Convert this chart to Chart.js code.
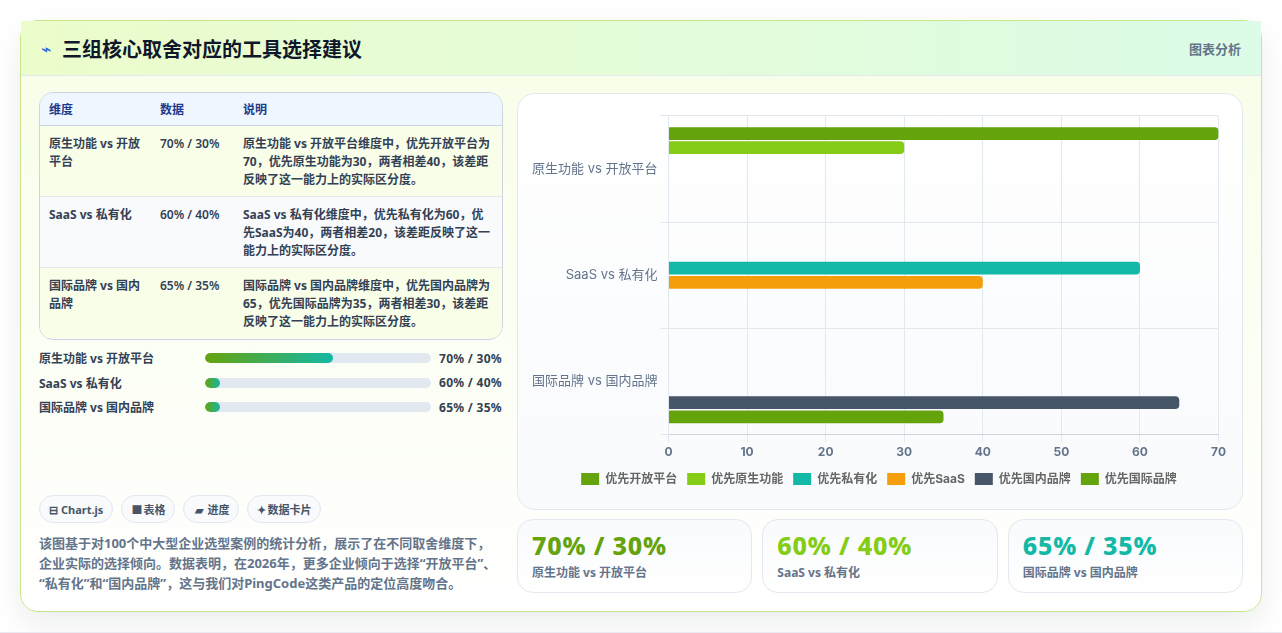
<!DOCTYPE html>
<html lang="zh-CN">
<head>
<meta charset="utf-8">
<title>三组核心取舍对应的工具选择建议</title>
<script src="https://cdn.jsdelivr.net/npm/chart.js@4"></script>
<style>
  * { box-sizing: border-box; }
  html, body { margin: 0; height: 633px; overflow: hidden; background: #fff; }
  body { position: relative; font-family: "Noto Sans", "Noto Sans CJK SC", sans-serif; color: #334155; }
  .page-line { position: absolute; left: 0; right: 0; top: 632px; height: 1px; background: #e8ecf2; }
  .card {
    position: absolute; left: 20px; top: 20px; width: 1242px; height: 592px;
    border: 1px solid #c5e98a; border-radius: 18px;
    background: linear-gradient(180deg, #f7fee7 0%, #ffffff 100%);
    box-shadow: 0 12px 30px rgba(15, 23, 42, 0.08);
  }
  .head {
    position: absolute; left: 0; top: 0; width: 1240px; height: 55px;
    background: linear-gradient(90deg, #ecfccb, #dcfce7);
    border-bottom: 1px solid #e2e8f0;
  }
  .head .icon { position: absolute; left: 20px; top: 18px; font: 700 17px "DejaVu Sans"; color: #2563eb; }
  .head h1 { position: absolute; left: 41px; top: 14px; margin: 0; font-size: 20px; line-height: 30px; font-weight: 700; color: #0f172a; }
  .head .tag { position: absolute; right: 20px; top: 18px; font-size: 13px; line-height: 20px; font-weight: 700; color: #64748b; }

  .table-wrap {
    position: absolute; left: 18px; top: 71px; width: 464px; height: 248px;
    border: 1px solid #cbd5e1; border-radius: 14px; overflow: hidden;
  }
  table { width: 100%; border-collapse: collapse; table-layout: fixed; font-size: 12px; line-height: 18px; font-weight: 700; }
  th { background: #eff6ff; color: #1e3a8a; text-align: left; height: 32px; padding: 2px 9px 0; border-bottom: 1px solid #cbd5e1; }
  td { padding: 9px 10px 7px 9px; vertical-align: top; height: 70.5px; border-bottom: 1px solid #e2e8f0; }
  td:nth-child(2) { font-weight: 600; }
  tr:last-child td { border-bottom: 0; }
  tbody tr:nth-child(odd) { background: #f9fee9; }
  tbody tr:nth-child(even) { background: #f8fafc; }

  .progress { position: absolute; left: 18px; top: 325px; width: 463px; }
  .p-row { display: flex; align-items: center; height: 24.5px; font-size: 12px; font-weight: 700; color: #334155; }
  .p-name { width: 166px; }
  .p-track { width: 226px; height: 10px; border-radius: 5px; background: #e2e8f0; overflow: hidden; }
  .p-fill { height: 100%; border-radius: 5px; background: linear-gradient(90deg, #65a30d, #14b8a6); }
  .p-val { flex: 1; text-align: right; letter-spacing: 0.3px; }

  .chips { position: absolute; left: 18px; top: 474px; display: flex; gap: 8px; }
  .chip {
    display: flex; align-items: center; gap: 3px;
    height: 28px; padding: 0 9px; border: 1px solid #e2e8f0; border-radius: 14px; background: #f8fafc;
    font-size: 11px; font-weight: 700; color: #475569; white-space: nowrap;
  }
  .chip i { font-style: normal; text-align: center; width: 9px; }
  .chip:nth-child(3) i { width: 11px; }
  .chip:nth-child(4) i { width: 7px; }
  .note { position: absolute; left: 18px; top: 512px; width: 464px; margin: 0; font-size: 13px; line-height: 20px; font-weight: 700; color: #64748b; }

  .chart-panel {
    position: absolute; left: 496px; top: 72px; width: 726px; height: 417px;
    border: 1px solid #e2e8f0; border-radius: 18px;
    background: linear-gradient(180deg, #ffffff, #f8fafc);
  }
  .chart-box { position: absolute; left: 11px; top: 11px; width: 700px; height: 390px; }

  .stats { position: absolute; left: 496px; top: 498px; width: 726px; display: flex; gap: 10px; }
  .stat {
    flex: 1; height: 74px; padding: 10px 14px; border: 1px solid #e2e8f0; border-radius: 16px;
    background: linear-gradient(180deg, #f8fafc, #ffffff);
  }
  .stat b { display: block; font-size: 25px; line-height: 30px; font-weight: 800; letter-spacing: 0.8px; }
  .stat span { display: block; margin-top: 5px; font-size: 12px; line-height: 16px; font-weight: 700; color: #64748b; }
</style>
</head>
<body>
<div class="card">
  <div class="head">
    <span class="icon">⌁</span>
    <h1>三组核心取舍对应的工具选择建议</h1>
    <span class="tag">图表分析</span>
  </div>

  <div class="table-wrap">
    <table>
      <colgroup><col style="width:111px"><col style="width:83px"><col></colgroup>
      <thead><tr id="table-head"></tr></thead>
      <tbody id="table-body"></tbody>
    </table>
  </div>

  <div class="progress" id="progress"></div>

  <div class="chips" id="chips"></div>
  <p class="note">该图基于对100个中大型企业选型案例的统计分析，展示了在不同取舍维度下，企业实际的选择倾向。数据表明，在2026年，更多企业倾向于选择“开放平台”、“私有化”和“国内品牌”，这与我们对PingCode这类产品的定位高度吻合。</p>

  <div class="chart-panel">
    <div class="chart-box"><canvas id="tradeoffChart"></canvas></div>
  </div>

  <div class="stats" id="stats"></div>
</div>
<div class="page-line"></div>

<script>
  const categories = ['原生功能 vs 开放平台', 'SaaS vs 私有化', '国际品牌 vs 国内品牌'];
  const seriesNames = ['优先开放平台', '优先原生功能', '优先私有化', '优先SaaS', '优先国内品牌', '优先国际品牌'];
  const openPlatform = [70, null, null];
  const nativeFeature = [30, null, null];
  const privateDeploy = [null, 60, null];
  const saas = [null, 40, null];
  const domesticBrand = [null, null, 65];
  const globalBrand = [null, null, 35];
  const seriesColors = ['#65a30d', '#84cc16', '#14b8a6', '#f59e0b', '#475569', '#65a30d'];
  const xTicks = [0, 10, 20, 30, 40, 50, 60, 70];

  const splitLabels = ['70% / 30%', '60% / 40%', '65% / 35%'];
  const progressFill = [56.6, 6.6, 6.6];
  const statColors = ['#65a30d', '#84cc16', '#14b8a6'];
  const tableHead = ['维度', '数据', '说明'];
  const tableNotes = [
    '原生功能 vs 开放平台维度中，优先开放平台为70，优先原生功能为30，两者相差40，该差距反映了这一能力上的实际区分度。',
    'SaaS vs 私有化维度中，优先私有化为60，优先SaaS为40，两者相差20，该差距反映了这一能力上的实际区分度。',
    '国际品牌 vs 国内品牌维度中，优先国内品牌为65，优先国际品牌为35，两者相差30，该差距反映了这一能力上的实际区分度。'
  ];
  const chipIcons = ['⊟', '■', '▰', '✦'];
  const chipLabels = ['Chart.js', '表格', '进度', '数据卡片'];

  // Table
  document.getElementById('table-head').innerHTML = tableHead.map(h => `<th>${h}</th>`).join('');
  document.getElementById('table-body').innerHTML = categories.map((c, i) =>
    `<tr><td>${c}</td><td>${splitLabels[i]}</td><td>${tableNotes[i]}</td></tr>`).join('');

  // Progress rows
  document.getElementById('progress').innerHTML = categories.map((c, i) =>
    `<div class="p-row"><span class="p-name">${c}</span>
      <div class="p-track"><div class="p-fill" style="width:${progressFill[i]}%"></div></div>
      <span class="p-val">${splitLabels[i]}</span></div>`).join('');

  // Chips and stat cards
  document.getElementById('chips').innerHTML = chipLabels.map((t, i) =>
    `<span class="chip"><i>${chipIcons[i]}</i>${t}</span>`).join('');
  document.getElementById('stats').innerHTML = categories.map((c, i) =>
    `<div class="stat"><b style="color:${statColors[i]}">${splitLabels[i]}</b><span>${c}</span></div>`).join('');

  // Main chart
  const seriesValues = [openPlatform, nativeFeature, privateDeploy, saas, domesticBrand, globalBrand];
  const fontFamily = 'Inter, "Noto Sans CJK SC", sans-serif';

  new Chart(document.getElementById('tradeoffChart'), {
    type: 'bar',
    data: {
      labels: categories,
      datasets: seriesNames.map((name, i) => ({
        label: name,
        data: seriesValues[i],
        backgroundColor: seriesColors[i],
        borderRadius: 4
      }))
    },
    options: {
      indexAxis: 'y',
      responsive: true,
      maintainAspectRatio: false,
      animation: false,
      plugins: {
        legend: {
          position: 'bottom',
          labels: { boxWidth: 18, boxHeight: 12, padding: 10, color: '#666', font: { family: fontFamily, size: 12, weight: '700' } }
        },
        tooltip: { enabled: false }
      },
      scales: {
        x: {
          min: 0,
          max: xTicks[xTicks.length - 1],
          afterBuildTicks: axis => { axis.ticks = xTicks.map(v => ({ value: v })); },
          grid: { color: '#e2e8f0' },
          border: { color: '#cbd5e1' },
          ticks: { color: '#64748b', font: { family: fontFamily, size: 12, weight: '700' } }
        },
        y: {
          grid: { color: '#e2e8f0' },
          border: { color: '#e2e8f0' },
          ticks: { color: '#64748b', font: { family: fontFamily, size: 13 } }
        }
      }
    }
  });
</script>
</body>
</html>
